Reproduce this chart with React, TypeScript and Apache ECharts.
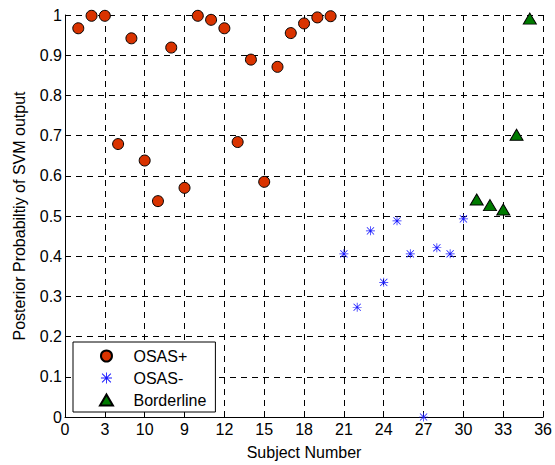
import React, { useEffect, useRef } from "react";
import * as echarts from "echarts";

const xTickLabels = ["0", "3", "10", "9", "12", "15", "18", "21", "24", "27", "30", "33", "36"];
const yTickLabels = ["0", "0.1", "0.2", "0.3", "0.4", "0.5", "0.6", "0.7", "0.8", "0.9", "1"];

const osasPlusSubjects = [1, 2, 3, 4, 5, 6, 7, 8, 9, 10, 11, 12, 13, 14, 15, 16, 17, 18, 19, 20];
const osasPlusValues = [0.967, 0.998, 0.998, 0.679, 0.942, 0.638, 0.537, 0.919, 0.570, 0.998, 0.988, 0.967, 0.684, 0.889, 0.585, 0.871, 0.955, 0.979, 0.994, 0.997];

const osasMinusSubjects = [21, 22, 23, 24, 25, 26, 27, 28, 29, 30];
const osasMinusValues = [0.406, 0.273, 0.463, 0.335, 0.488, 0.406, 0.0, 0.421, 0.406, 0.493];

const borderlineSubjects = [31, 32, 33, 34, 35];
const borderlineValues = [0.541, 0.527, 0.516, 0.702, 0.991];

const STAR =
  "path://M9.2 0 L10.8 0 L10.8 20 L9.2 20 Z M0 9.2 L20 9.2 L20 10.8 L0 10.8 Z " +
  "M2.6 1.4 L18.6 17.4 L17.4 18.6 L1.4 2.6 Z M17.4 1.4 L18.6 2.6 L2.6 18.6 L1.4 17.4 Z";
const TRIANGLE = "path://M10 0 L20 17 L0 17 Z";

const FONT = "'Liberation Sans', Arial, Helvetica, sans-serif";

export default function App() {
  const ref = useRef<HTMLDivElement>(null);
  useEffect(() => {
    if (!ref.current) return;
    const chart = echarts.init(ref.current, null, { renderer: "svg" });
    const zip = (xs: number[], ys: number[]) => xs.map((x, i) => [x, ys[i]]);
    chart.setOption({
      animation: false,
      backgroundColor: "#ffffff",
      textStyle: { fontFamily: FONT, color: "#000" },
      grid: { left: 65, right: 10, top: 15, bottom: 45, containLabel: false },
      xAxis: {
        type: "value",
        min: 0,
        max: 36,
        interval: 3,
        name: "Subject Number",
        nameLocation: "middle",
        nameGap: 27,
        nameTextStyle: { fontFamily: FONT, fontSize: 16, color: "#000" },
        axisLine: { show: true, onZero: false, lineStyle: { color: "#000", width: 1 } },
        axisTick: { show: true, inside: true, length: 5, lineStyle: { color: "#000" } },
        axisLabel: {
          fontFamily: FONT,
          fontSize: 16,
          color: "#000",
          margin: 4,
          formatter: (v: number) => xTickLabels[Math.round(v / 3)] ?? "",
        },
        splitLine: { show: true, lineStyle: { color: "#000", type: [6, 5], width: 1 } },
      },
      yAxis: {
        type: "value",
        min: 0,
        max: 1,
        interval: 0.1,
        name: "Posterior Probabiltiy of SVM output",
        nameLocation: "middle",
        nameGap: 38,
        nameTextStyle: { fontFamily: FONT, fontSize: 16, color: "#000" },
        axisLine: { show: true, onZero: false, lineStyle: { color: "#000", width: 1 } },
        axisTick: { show: true, inside: true, length: 5, lineStyle: { color: "#000" } },
        axisLabel: {
          fontFamily: FONT,
          fontSize: 16,
          color: "#000",
          margin: 3,
          formatter: (v: number) => yTickLabels[Math.round(v * 10)] ?? "",
        },
        splitLine: { show: true, lineStyle: { color: "#000", type: [6, 5], width: 1 } },
      },
      legend: {
        show: true,
        orient: "vertical",
        left: 73,
        top: 342,
        padding: [6, 9, 4, 26],
        itemWidth: 44,
        itemHeight: 11,
        itemGap: 6,
        symbolKeepAspect: true,
        backgroundColor: "#ffffff",
        borderColor: "#000",
        borderWidth: 1,
        borderRadius: 0,
        textStyle: { fontFamily: FONT, fontSize: 16, color: "#000" },
        data: [
          { name: "OSAS+", icon: "circle" },
          { name: "OSAS-", icon: STAR },
          { name: "Borderline", icon: TRIANGLE },
        ],
      },
      series: [
        {
          name: "OSAS+",
          type: "scatter",
          symbol: "circle",
          symbolSize: 11,
          itemStyle: { color: "#d93300", borderColor: "#000", borderWidth: 1, opacity: 1 },
          data: zip(osasPlusSubjects, osasPlusValues),
          z: 3,
        },
        {
          name: "OSAS-",
          type: "scatter",
          symbol: STAR,
          symbolSize: 9,
          itemStyle: { color: "#1a1aff", opacity: 1 },
          data: zip(osasMinusSubjects, osasMinusValues),
          z: 3,
        },
        {
          name: "Borderline",
          type: "scatter",
          symbol: TRIANGLE,
          symbolSize: [13, 11],
          itemStyle: { color: "#007a00", borderColor: "#000", borderWidth: 1, opacity: 1 },
          data: zip(borderlineSubjects, borderlineValues),
          z: 3,
        },
      ],
    });
    return () => chart.dispose();
  }, []);
  return <div ref={ref} style={{ width: 555, height: 465, position: "absolute", left: 0, top: 0 }} />;
}
